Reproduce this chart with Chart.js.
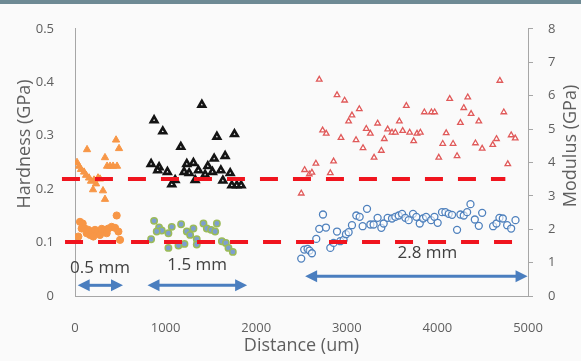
<!DOCTYPE html>
<html>
<head>
<meta charset="utf-8">
<script src="https://cdn.jsdelivr.net/npm/chart.js@4"></script>
<style>
  html, body { margin: 0; padding: 0; background: #fafafa; }
  #wrap { position: relative; width: 581px; height: 361px; }
  #bar { position: absolute; left: 0; top: 0; width: 581px; height: 4px; background: #6e8a94; }
</style>
</head>
<body>
<div id="wrap">
  <canvas id="c"></canvas>
  <div id="bar"></div>
</div>
<script>
// ---- data (x in um, hardness in GPa on left axis, modulus in GPa on right axis) ----
const xTicks = [0, 1000, 2000, 3000, 4000, 5000];
const hardnessTicks = [0, 0.1, 0.2, 0.3, 0.4, 0.5];
const modulusTicks = [0, 1, 2, 3, 4, 5, 6, 7, 8];

const orangeHardness = [[22,0.250],[44,0.243],[66,0.237],[100,0.232],[122,0.226],[133,0.274],[155,0.221],[177,0.215],[199,0.199],[210,0.217],[232,0.210],[254,0.221],[276,0.219],[309,0.197],[331,0.259],[331,0.181],[354,0.243],[387,0.243],[420,0.243],[453,0.292],[464,0.243],[486,0.276]];
const orangeModulus = [[37,1.78],[55,2.22],[74,2.02],[85,2.17],[110,2.02],[129,1.88],[147,1.98],[166,1.83],[184,1.93],[202,1.78],[221,1.98],[258,1.93],[276,1.83],[295,2.01],[331,1.98],[350,1.88],[368,2.02],[405,2.07],[442,2.04],[460,2.41],[479,1.93],[497,1.68]];
const blackHardness = [[1400,0.358],[873,0.329],[969,0.308],[1566,0.298],[1760,0.303],[1168,0.279],[1657,0.262],[1536,0.257],[840,0.247],[928,0.241],[913,0.235],[1020,0.232],[1234,0.247],[1307,0.249],[1260,0.230],[1204,0.232],[1362,0.235],[1466,0.243],[1517,0.232],[1610,0.235],[1713,0.230],[1436,0.227],[1326,0.217],[1068,0.209],[1632,0.216],[1731,0.207],[1786,0.207],[1834,0.207],[1105,0.217]];
const greenModulus = [[873,2.25],[928,2.05],[958,1.96],[902,1.93],[840,1.70],[1031,1.88],[1031,1.44],[1142,1.51],[1208,1.56],[1171,2.15],[1234,1.93],[1271,1.83],[1307,2.02],[1344,1.70],[1344,1.54],[1418,2.17],[1455,2.02],[1503,1.98],[1547,1.93],[1566,2.17],[1621,1.64],[1665,1.59],[1694,1.44],[1742,1.32],[1068,2.07]];
const redHardness = [[2497,0.192],[2534,0.236],[2586,0.228],[2615,0.231],[2659,0.248],[2696,0.405],[2733,0.310],[2773,0.304],[2818,0.230],[2854,0.252],[2892,0.376],[2936,0.296],[2976,0.366],[3020,0.327],[3057,0.338],[3102,0.292],[3138,0.350],[3179,0.277],[3215,0.313],[3260,0.304],[3301,0.259],[3340,0.323],[3381,0.272],[3414,0.294],[3451,0.312],[3499,0.306],[3536,0.306],[3580,0.327],[3617,0.309],[3657,0.356],[3694,0.306],[3738,0.290],[3775,0.304],[3812,0.306],[3856,0.344],[3934,0.344],[3970,0.344],[4015,0.259],[4059,0.285],[4097,0.305],[4136,0.369],[4173,0.285],[4217,0.262],[4254,0.324],[4291,0.352],[4335,0.372],[4372,0.341],[4420,0.286],[4457,0.327],[4494,0.276],[4611,0.283],[4652,0.294],[4689,0.403],[4733,0.344],[4777,0.247],[4814,0.301],[4859,0.295]];
const blueModulus = [[2497,1.12],[2530,1.39],[2567,1.41],[2589,1.36],[2615,1.28],[2663,1.71],[2696,2.01],[2737,2.44],[2770,2.05],[2818,1.44],[2854,1.59],[2892,1.93],[2928,1.64],[2965,1.68],[2991,1.85],[3020,1.91],[3057,2.12],[3105,2.41],[3142,2.37],[3175,2.09],[3223,2.61],[3260,2.14],[3296,2.14],[3340,2.34],[3381,2.04],[3407,2.17],[3451,2.34],[3499,2.32],[3536,2.37],[3573,2.41],[3610,2.46],[3646,2.34],[3683,2.27],[3731,2.46],[3768,2.37],[3805,2.17],[3842,2.32],[3875,2.37],[3930,2.27],[3967,2.37],[4003,2.19],[4051,2.51],[4088,2.51],[4125,2.46],[4162,2.43],[4217,1.98],[4254,2.44],[4291,2.41],[4328,2.51],[4365,2.75],[4413,2.29],[4457,2.10],[4494,2.49],[4615,2.09],[4652,2.17],[4685,2.34],[4722,2.32],[4770,2.12],[4814,2.02],[4862,2.27]];

// reference (dashed) levels, in hardness units
const upperLevel = [[-144,0.219],[4750,0.219]];
const lowerLevel = [[-110,0.101],[4830,0.101]];

// span arrows and their labels
const spanFrom = [30, 800, 2540];
const spanTo = [530, 1900, 4995];
const spanAt = [0.020, 0.020, 0.037];
const spanLabels = ['0.5 mm', '1.5 mm', '2.8 mm'];
const spanLabelX = [276, 1348, 3890];
const spanLabelY = [0.053, 0.057, 0.080];

const xTitle = 'Distance (um)';
const leftTitle = 'Hardness (GPa)';
const rightTitle = 'Modulus (GPa)';

// ---- helpers ----
const pts = arr => arr.map(p => ({x: p[0], y: p[1]}));
const FONT = '"Open Sans", "Liberation Sans", sans-serif';
const GREY = '#5f5f5f';
const AXIS = '#a6a6a6';

const spanPlugin = {
  id: 'spans',
  afterDatasetsDraw(chart) {
    const ctx = chart.ctx, xs = chart.scales.x, ys = chart.scales.y;
    ctx.save();
    const col = '#4a7ebf';
    for (let i = 0; i < spanFrom.length; i++) {
      const x0 = xs.getPixelForValue(spanFrom[i]);
      const x1 = xs.getPixelForValue(spanTo[i]);
      const y = ys.getPixelForValue(spanAt[i]);
      const hl = 12, hw = 6;
      ctx.strokeStyle = col; ctx.fillStyle = col; ctx.lineWidth = 3;
      ctx.beginPath(); ctx.moveTo(x0 + hl - 1, y); ctx.lineTo(x1 - hl + 1, y); ctx.stroke();
      ctx.beginPath(); ctx.moveTo(x0, y); ctx.lineTo(x0 + hl, y - hw); ctx.lineTo(x0 + hl, y + hw); ctx.closePath(); ctx.fill();
      ctx.beginPath(); ctx.moveTo(x1, y); ctx.lineTo(x1 - hl, y - hw); ctx.lineTo(x1 - hl, y + hw); ctx.closePath(); ctx.fill();
    }
    ctx.fillStyle = '#404040';
    ctx.font = '17px ' + FONT;
    ctx.textAlign = 'center'; ctx.textBaseline = 'middle';
    for (let i = 0; i < spanLabels.length; i++) {
      ctx.fillText(spanLabels[i], xs.getPixelForValue(spanLabelX[i]), ys.getPixelForValue(spanLabelY[i]));
    }
    // vertical axis titles
    ctx.fillStyle = GREY;
    ctx.font = '18px ' + FONT;
    ctx.save(); ctx.translate(24.5, 144); ctx.rotate(-Math.PI / 2); ctx.fillText(leftTitle, 0, 0); ctx.restore();
    ctx.save(); ctx.translate(571, 146); ctx.rotate(-Math.PI / 2); ctx.fillText(rightTitle, 0, 0); ctx.restore();
    ctx.restore();
  }
};

new Chart(document.getElementById('c'), {
  type: 'scatter',
  data: {
    datasets: [
      { type: 'line', data: pts(upperLevel), yAxisID: 'y', borderColor: '#f0141e', borderWidth: 4, borderDash: [18, 15], pointRadius: 0, clip: false, borderCapStyle: 'butt' },
      { type: 'line', data: pts(lowerLevel), yAxisID: 'y', borderColor: '#f0141e', borderWidth: 4, borderDash: [18, 15], pointRadius: 0, clip: false, borderCapStyle: 'butt' },
      { data: pts(orangeHardness), yAxisID: 'y', pointStyle: 'triangle', pointRadius: 4.2, backgroundColor: '#f79646', borderColor: '#f79646', borderWidth: 1 },
      { data: pts(orangeModulus), yAxisID: 'y2', pointStyle: 'circle', pointRadius: 3.6, backgroundColor: '#f79646', borderColor: '#f79646', borderWidth: 1 },
      { data: pts(blackHardness), yAxisID: 'y', pointStyle: 'triangle', pointRadius: 3.8, backgroundColor: '#ffffff', borderColor: '#141414', borderWidth: 2.6 },
      { data: pts(greenModulus), yAxisID: 'y2', pointStyle: 'circle', pointRadius: 3.2, backgroundColor: '#7d9fcf', borderColor: '#9bbb59', borderWidth: 1.5 },
      { data: pts(redHardness), yAxisID: 'y', pointStyle: 'triangle', pointRadius: 3.2, backgroundColor: '#ffffff', borderColor: '#e05a5a', borderWidth: 1.3 },
      { data: pts(blueModulus), yAxisID: 'y2', pointStyle: 'circle', pointRadius: 3.5, backgroundColor: 'rgba(255,255,255,0.6)', borderColor: '#4f81bd', borderWidth: 1.3 }
    ]
  },
  options: {
    responsive: true,
    maintainAspectRatio: false,
    animation: false,
    layout: { padding: { left: 0, right: 0, top: 22, bottom: 4 } },
    plugins: { legend: { display: false }, tooltip: { enabled: false } },
    scales: {
      x: {
        type: 'linear', min: 0, max: 5000,
        afterBuildTicks: s => { s.ticks = xTicks.map(v => ({value: v})); },
        afterFit: s => { s.height = 61; },
        grid: { display: false, drawTicks: false },
        border: { display: true, color: AXIS, width: 1 },
        ticks: { padding: 24, color: GREY, font: { family: FONT, size: 13 }, maxRotation: 0, callback: v => String(v) },
        title: { display: true, text: xTitle, color: GREY, font: { family: FONT, size: 18 }, padding: 0 }
      },
      y: {
        type: 'linear', position: 'left', min: 0, max: 0.5,
        afterBuildTicks: s => { s.ticks = hardnessTicks.map(v => ({value: v})); },
        afterFit: s => { s.width = 75; },
        grid: { display: false, drawTicks: false },
        border: { display: true, color: AXIS, width: 1 },
        ticks: { padding: 21, color: GREY, font: { family: FONT, size: 13 }, callback: v => String(v) }
      },
      y2: {
        type: 'linear', position: 'right', min: 0, max: 8,
        afterBuildTicks: s => { s.ticks = modulusTicks.map(v => ({value: v})); },
        afterFit: s => { s.width = 53; },
        grid: { display: true, drawOnChartArea: false, drawTicks: true, tickLength: 5, color: AXIS },
        border: { display: true, color: AXIS, width: 1 },
        ticks: { padding: 15, color: GREY, font: { family: FONT, size: 13 }, callback: v => String(v) }
      }
    }
  },
  plugins: [spanPlugin]
});
</script>
</body>
</html>
